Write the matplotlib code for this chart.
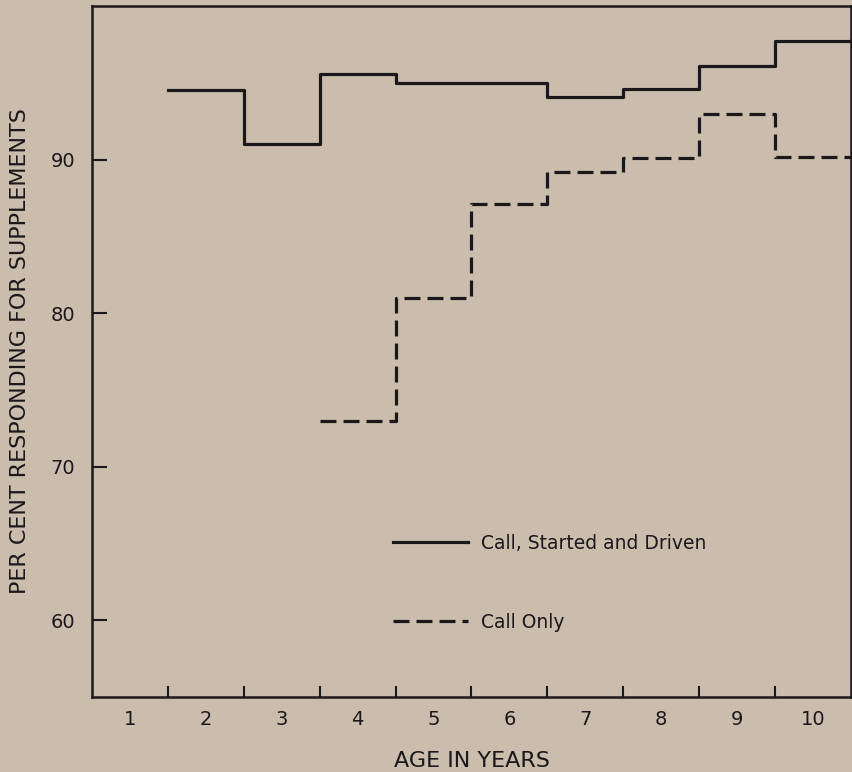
import numpy as np
import matplotlib
matplotlib.use("Agg")
import matplotlib.pyplot as plt

# values (per cent responding, by age in years)
age_labels = ["1", "2", "3", "4", "5", "6", "7", "8", "9", "10"]
ages_full = [2, 3, 4, 5, 6, 7, 8, 9, 10]
pct_full = [94.5, 91.0, 95.6, 95.0, 95.0, 94.1, 94.6, 96.1, 97.7]
ages_call = [4, 5, 6, 7, 8, 9, 10]
pct_call = [73.0, 81.0, 87.1, 89.2, 90.1, 93.0, 90.2]
y_ticks = [60, 70, 80, 90]

BG = "#cabdae"
INK = "#1c1718"

plt.rcParams["font.family"] = ["DejaVu Sans"]


def step_xy(ages, vals):
    """each age covers age-0.5 .. age+0.5"""
    ages = np.asarray(ages, dtype=float)
    edges = np.append(ages - 0.5, ages[-1] + 0.5)
    return edges, np.append(vals, vals[-1])


fig = plt.figure(figsize=(8.52, 7.72), dpi=100, facecolor=BG)
ax = fig.add_axes([0.108, 0.0971, 0.8908, 0.8951], facecolor=BG)

x, y = step_xy(ages_full, pct_full)
ax.step(x, y, where="post", color=INK, lw=2.3, label="Call, Started and Driven")
x, y = step_xy(ages_call, pct_call)
ax.step(x, y, where="post", color=INK, lw=2.3, dashes=(5, 2.2), label="Call Only")

ax.set_xlim(0.5, 10.5)
ax.set_ylim(55, 100)

# tick marks sit between the years, labels on the years
n = len(age_labels)
ax.set_xticks(np.arange(1.5, n, 1.0))
ax.set_xticklabels([])
ax.set_xticks(np.arange(1, n + 1), age_labels, minor=True)
ax.tick_params(axis="x", which="major", direction="in", length=8, width=1.5, color=INK)
ax.tick_params(axis="x", which="minor", length=0, pad=9, labelsize=14, labelcolor=INK)

ax.set_yticks(y_ticks)
ax.tick_params(axis="y", direction="in", length=11, width=1.5, color=INK,
               pad=12, labelsize=14, labelcolor=INK)

for s in ax.spines.values():
    s.set_color(INK)
    s.set_linewidth(1.8)

ax.set_xlabel("AGE IN YEARS", fontsize=16, color=INK, labelpad=16)
ax.set_ylabel("PER CENT RESPONDING FOR SUPPLEMENTS", fontsize=16, color=INK, labelpad=15)

ax.legend(loc="upper left", bbox_to_anchor=(0.397, 0.236), frameon=False,
          fontsize=13.5, handlelength=4.0, handletextpad=0.7,
          labelspacing=3.2, borderpad=0, borderaxespad=0, labelcolor=INK)

fig.savefig("out.png", dpi=100, facecolor=BG)
